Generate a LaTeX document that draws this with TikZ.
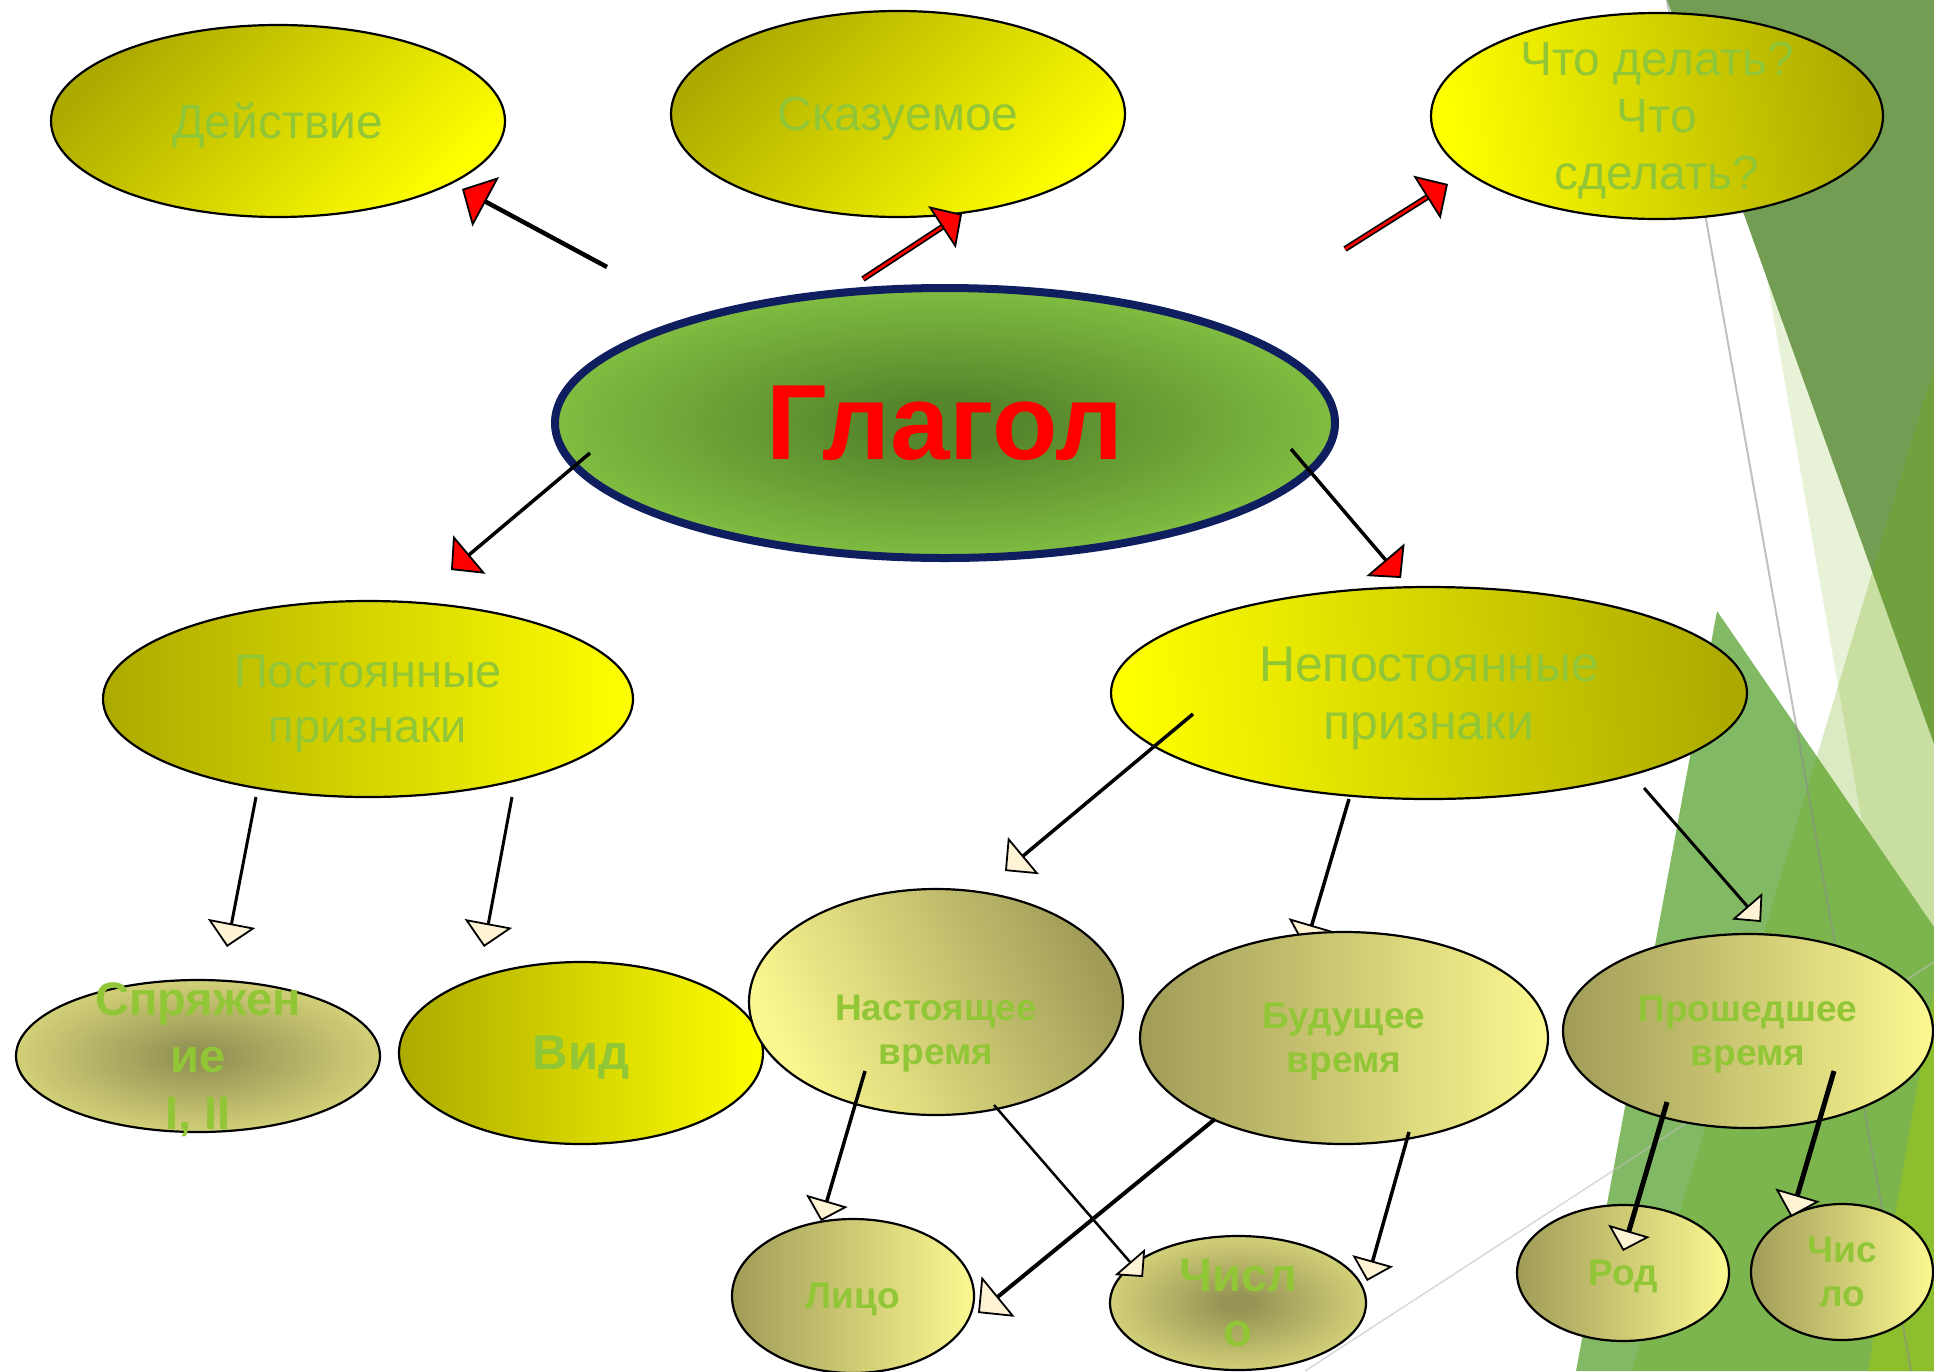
\documentclass[tikz,border=0pt]{standalone}
\usepackage{fontspec}
\setmainfont{Liberation Sans}
\usetikzlibrary{shapes.geometric,arrows.meta,calc}
\definecolor{txtg}{RGB}{145,198,55}
\definecolor{olv}{RGB}{172,170,0}
\definecolor{ylw}{RGB}{255,255,0}
\definecolor{pdk}{RGB}{160,156,88}
\definecolor{plt}{RGB}{252,248,145}
\definecolor{rdk}{RGB}{150,148,85}
\definecolor{gdk}{RGB}{86,134,44}
\definecolor{glt}{RGB}{142,208,72}
\definecolor{navyb}{RGB}{14,30,94}
\definecolor{cream}{RGB}{255,243,214}
\definecolor{bgdark}{RGB}{115,157,82}
\definecolor{bgpale}{RGB}{232,242,214}
\definecolor{bgmed}{RGB}{130,185,100}
\definecolor{bgover}{RGB}{110,170,10}
\definecolor{bglime}{RGB}{140,190,45}
\pgfdeclareradialshading{glarad}{\pgfpointorigin}{color(0bp)=(gdk); color(5bp)=(gdk); color(32bp)=(glt); color(75bp)=(glt)}
\pgfdeclareradialshading{palerad}{\pgfpointorigin}{color(0bp)=(rdk); color(3bp)=(rdk); color(40bp)=(plt); color(75bp)=(plt)}
\newcommand\fsz[2]{\fontsize{#1}{#2}\selectfont}
\begin{document}
\begin{tikzpicture}[x=1pt,y=-1pt,
  ell/.style={ellipse, draw=black, line width=2.2pt, inner sep=0pt, outer sep=0pt},
  lbl/.style={text=txtg, align=center, inner sep=0pt, outer sep=0pt, text depth=0pt},
  yelA/.style={left color=olv, right color=ylw},
  yelB/.style={left color=ylw, right color=olv},
  palA/.style={left color=pdk, right color=plt},
  palB/.style={left color=plt, right color=pdk},
  crtip/.style 2 args={-{Triangle[length=#1pt,width=#2pt,fill=cream,line width=1.8pt]}},
  rdtip/.style 2 args={-{Triangle[length=#1pt,width=#2pt,fill=red,line width=1.8pt]}},
  conn/.style={draw=black, line cap=butt},
  bgline/.style={draw=black!45, opacity=0.55, line width=2pt},
  bgline2/.style={draw=black!25, opacity=0.6, line width=1.5pt}]
\useasboundingbox (0,0) rectangle (1934,1371);
% background decoration
\fill[bgpale] (1718,0) -- (1934,0) -- (1934,1234) -- cycle;
\fill[bgdark] (1667,0) -- (1934,0) -- (1934,744) -- cycle;
\fill[bgmed] (1717,611) -- (1934,927) -- (1934,1371) -- (1576,1371) -- cycle;
\fill[bgover, opacity=0.25] (1934,367) -- (1934,1371) -- (1632,1371) -- cycle;
\fill[bglime] (1934,990) -- (1934,1371) -- (1868,1371) -- cycle;
\draw[bgline] (1667,0) -- (1911,1371);
\draw[bgline2] (1305,1371) -- (1934,962);
% coordinates of connector ends
\coordinate (sA) at (607,267);  \coordinate (tA) at (462,189);
\coordinate (sB) at (863,279);  \coordinate (tB) at (962,214);
\coordinate (sC) at (1345,249); \coordinate (tC) at (1448,184);
\coordinate (sD) at (590,453);  \coordinate (tD) at (451,570);
\coordinate (sE) at (1291,449); \coordinate (tE) at (1401,578);
\coordinate (sF) at (256,797);  \coordinate (tF) at (227,947);
\coordinate (sG) at (512,797);  \coordinate (tG) at (484,947);
\coordinate (sH) at (1193,714); \coordinate (tH) at (1005,871);
\coordinate (sI) at (1349,799); \coordinate (tI) at (1305,948);
\coordinate (sJ) at (1644,788); \coordinate (tJ) at (1761,922);
\coordinate (sK) at (865,1071); \coordinate (tK) at (821,1221);
\coordinate (sL) at (994,1105); \coordinate (tL) at (1143,1277);
\coordinate (sM) at (1215,1119);\coordinate (tM) at (978,1313);
\coordinate (sN) at (1409,1132);\coordinate (tN) at (1367,1281);
\coordinate (sO) at (1667,1102);\coordinate (tO) at (1623,1251);
\coordinate (sP) at (1834,1071);\coordinate (tP) at (1791,1217);
% ellipses
\node[ell, yelA, shading angle=45, minimum width=454pt, minimum height=192pt] (dey) at (278,121) {};
\node[ell, yelA, shading angle=45, minimum width=454pt, minimum height=206pt] (ska) at (898,114) {};
\node[ell, yelB, shading angle=100, minimum width=452pt, minimum height=206pt] (chto) at (1657,116) {};
\node[ellipse, draw=navyb, line width=8pt, inner sep=0pt, shade, shading=glarad, minimum width=780pt, minimum height=270pt] (gla) at (945,423) {};
\node[ell, yelA, minimum width=530pt, minimum height=196pt] (post) at (368,699) {};
\node[ell, yelB, shading angle=95, minimum width=636pt, minimum height=212pt] (nepost) at (1429,693) {};
\node[ell, shade, shading=palerad, minimum width=364pt, minimum height=152pt] (spr) at (198,1056) {};
\node[ell, yelA, minimum width=364pt, minimum height=182pt] (vid) at (581,1053) {};
\node[ell, palB, shading angle=115, minimum width=374pt, minimum height=226pt] (nast) at (936,1002) {};
\draw[conn, line width=3.5pt, crtip={24}{48}] (sI) -- (tI);
\node[ell, palA, minimum width=408pt, minimum height=212pt] (bud) at (1344,1038) {};
\node[ell, palA, minimum width=370pt, minimum height=194pt] (prosh) at (1748,1031) {};
\node[ell, palA, minimum width=242pt, minimum height=154pt] (lico) at (853,1296) {};
\node[ell, shade, shading=palerad, minimum width=256pt, minimum height=134pt] (chisA) at (1238,1303) {};
\node[ell, palA, minimum width=212pt, minimum height=136pt] (rod) at (1623,1273) {};
\node[ell, palA, minimum width=182pt, minimum height=136pt] (chisB) at (1842,1272) {};
% texts
\node[lbl, font=\fsz{48}{57}] (tdey) at (dey.center) {Действие};
\node[lbl, font=\fsz{48}{57}] (tska) at (ska.center) {Сказуемое};
\node[lbl, font=\fsz{48}{57}] (tchto) at (chto.center) {Что делать?\\Что\\сделать?};
\node[inner sep=0pt, text=red, text depth=0pt, font=\bfseries\fsz{107}{128}] (tgla) at (gla.center) {Глагол};
\node[lbl, font=\fsz{47}{55}] (tpost) at (post.center) {Постоянные\\признаки};
\node[lbl, font=\fsz{50}{58}] (tnepost) at (nepost.center) {Непостоянные\\признаки};
\node[lbl, font=\bfseries\fsz{47}{57}] (tspr) at (spr.center) {Спряжен\\ие\\I, II};
\node[lbl, font=\bfseries\fsz{49}{59}] (tvid) at (vid.center) {Вид};
\node[lbl, font=\bfseries\fsz{37}{44}] (tnast) at (936,1030) {Настоящее\\время};
\node[lbl, font=\bfseries\fsz{37}{44}] (tbud) at (bud.center) {Будущее\\время};
\node[lbl, font=\bfseries\fsz{37}{44}] (tprosh) at (prosh.center) {Прошедшее\\время};
\node[lbl, font=\bfseries\fsz{37}{44}] (tlico) at (lico.center) {Лицо};
\node[lbl, font=\bfseries\fsz{47}{55}] (tchisA) at (chisA.center) {Числ\\о};
\node[lbl, font=\bfseries\fsz{37}{44}] (trod) at (rod.center) {Род};
\node[lbl, font=\bfseries\fsz{37}{44}] (tchisB) at (chisB.center) {Чис\\ло};
% connectors from Глагол
\draw[conn, line width=4.5pt, rdtip={27}{56}] (sA) -- (tA);
\draw[line width=6pt, black, shorten >=20pt] (sB) -- (tB);
\draw[line width=2.6pt, red, shorten >=20pt] (sB) -- (tB);
\draw[conn, line width=1pt, rdtip={24}{50}] ($(tB)!24pt!(sB)$) -- (tB);
\draw[line width=6pt, black, shorten >=20pt] (sC) -- (tC);
\draw[line width=2.6pt, red, shorten >=20pt] (sC) -- (tC);
\draw[conn, line width=1pt, rdtip={25}{51}] ($(tC)!25pt!(sC)$) -- (tC);
\draw[conn, line width=3.5pt, rdtip={24}{50}] (sD) -- (tD);
\draw[conn, line width=3.5pt, rdtip={24}{50}] (sE) -- (tE);
% other connectors
\draw[conn, line width=3pt, crtip={24}{48}] (sF) -- (tF);
\draw[conn, line width=3pt, crtip={24}{48}] (sG) -- (tG);
\draw[conn, line width=3.5pt, crtip={24}{48}] (sH) -- (tH);
\draw[conn, line width=3pt, crtip={21}{40}] (sJ) -- (tJ);
\draw[conn, line width=3.5pt, crtip={21}{43}] (sK) -- (tK);
\draw[conn, line width=2.5pt, crtip={20}{40}] (sL) -- (tL);
\draw[conn, line width=4pt, crtip={26}{52}] (sM) -- (tM);
\draw[conn, line width=3.5pt, crtip={21}{42}] (sN) -- (tN);
\draw[conn, line width=5pt, crtip={21}{43}] (sO) -- (tO);
\draw[conn, line width=5pt, crtip={23}{46}] (sP) -- (tP);
\end{tikzpicture}
\end{document}
